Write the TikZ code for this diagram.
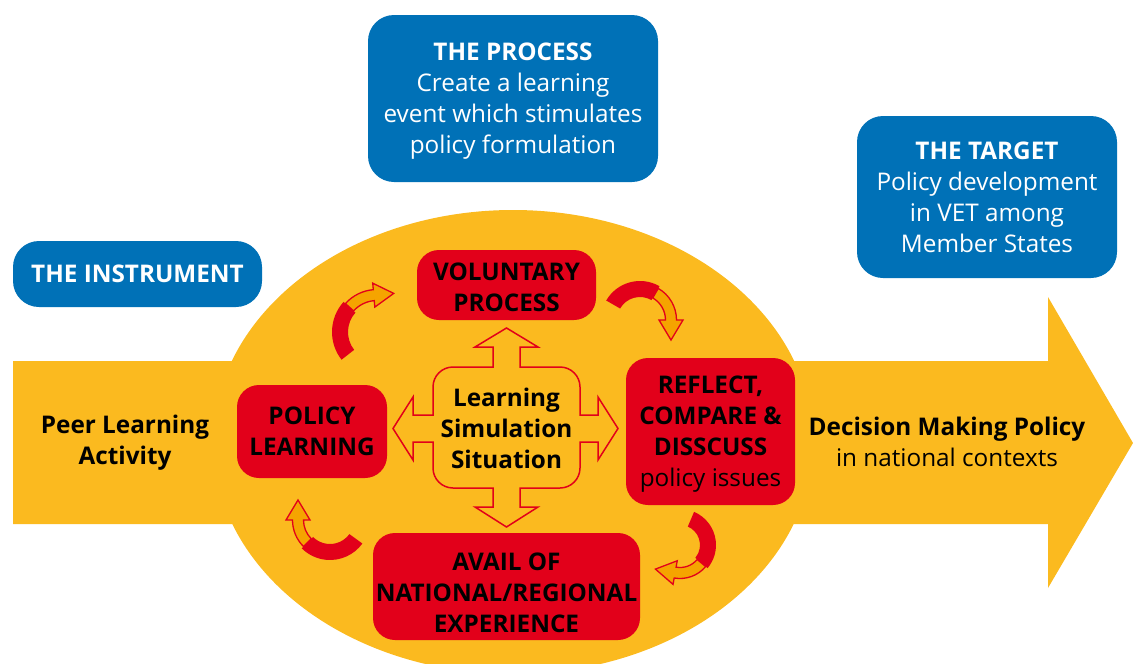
\documentclass[tikz,border=0pt]{standalone}
\usepackage{fontspec}
\setmainfont{Open Sans}
\usetikzlibrary{calc}

\definecolor{peeryellow}{HTML}{FBBA1F}
\definecolor{peerred}{HTML}{E2001A}
\definecolor{peerblue}{HTML}{0071B7}
\definecolor{peerorange}{HTML}{F5A400}

\newcommand{\boxfont}{\fontsize{24.3}{31}\selectfont}

% turning arrow: centre x, centre y, radius, tail angle, split angle, head angle
\newcommand{\swirl}[6]{%
  \begin{scope}[shift={(#1,#2)}]
    \fill[peerred] (#4:#3+8) arc[start angle=#4, end angle=#5, radius=#3+8]
      -- (#5:#3-8) arc[start angle=#5, end angle=#4, radius=#3-8] -- cycle;
    \filldraw[fill=peerorange, draw=peerred, line width=1.3pt, line join=miter]
      (#5:#3+5.5) arc[start angle=#5, end angle=#6, radius=#3+5.5]
      -- (#6:#3+12) -- ($(#6:#3)+(#6+90:20)$) -- (#6:#3-12)
      -- (#6:#3-5.5) arc[start angle=#6, end angle=#5, radius=#3-5.5] -- cycle;
  \end{scope}}

\begin{document}
\begin{tikzpicture}[x=1pt,y=-1pt,
  bluebox/.style={fill=peerblue, text=white, rounded corners=26, align=center,
    inner sep=0pt, text depth=0pt, font=\boxfont},
  redbox/.style={fill=peerred, text=black, rounded corners=22, align=center,
    inner sep=0pt, text depth=0pt, font=\boxfont\bfseries},
  plaintext/.style={align=center, text=black, font=\boxfont}]

	\useasboundingbox (0,0) rectangle (1133,664);
	\clip (0,0) rectangle (1133,664);

	% Draw the big arrow and the oval on top of it
	\fill[peeryellow] (13,361) -- (1048,361) -- (1048,297) -- (1133,443)
		-- (1048,588) -- (1048,524) -- (13,524) -- cycle;
	\fill[peeryellow] (513,442) ellipse[x radius=300, y radius=232];

	% Blue boxes
	\node[bluebox, minimum width=290, minimum height=167] (process) at (513,98.5)
		{\textbf{THE PROCESS}\\Create a learning\\event which stimulates\\policy formulation};
	\node[bluebox, minimum width=260, minimum height=162] (target) at (987,197)
		{\textbf{THE TARGET}\\Policy development\\in VET among\\Member States};
	\node[bluebox, minimum width=249, minimum height=66] (instrument) at (137.5,274)
		{\textbf{THE INSTRUMENT}};

	% Text on the arrow
	\node[plaintext] (peer) at (125,443) {\textbf{Peer Learning}\\\textbf{Activity}};
	\node[plaintext] (decision) at (947,442) {\textbf{Decision Making Policy}\\in national contexts};

	% Red boxes round the oval
	\node[redbox, minimum width=179, minimum height=70, text height=52] (voluntary) at (506.5,285)
		{VOLUNTARY\\PROCESS};
	\node[redbox, minimum width=150, minimum height=93] (policy) at (312,431.5)
		{POLICY\\LEARNING};
	\node[redbox, minimum width=169, minimum height=147] (reflect) at (710.5,431.5)
		{REFLECT,\\COMPARE \&\\DISSCUSS\\\mdseries policy issues};
	\node[redbox, minimum width=267, minimum height=107, text height=92] (avail) at (506.5,586.5)
		{AVAIL OF\\NATIONAL/REGIONAL\\EXPERIENCE};

	% Four-way arrow in the middle
	\draw[peerred, line width=1.5pt, line join=miter]
		(493,367) -- (493,347) -- (475,347) -- (506.5,328) -- (538,347) -- (520,347)
		-- (520,367) -- (560,367) arc[start angle=-90, end angle=0, radius=20]
		-- (580,415) -- (598,415) -- (598,397) -- (618,428.5) -- (598,460) -- (598,442)
		-- (580,442) -- (580,468) arc[start angle=0, end angle=90, radius=20]
		-- (520,488) -- (520,507) -- (538,507) -- (506.5,527) -- (475,507) -- (493,507)
		-- (493,488) -- (453,488) arc[start angle=90, end angle=180, radius=20]
		-- (433,442) -- (413,442) -- (413,460) -- (393,428.5) -- (413,397) -- (413,415)
		-- (433,415) -- (433,387) arc[start angle=180, end angle=270, radius=20]
		-- cycle;
	\node[plaintext, font=\boxfont\bfseries] (lss) at (506.5,428) {Learning\\Simulation\\Situation};

	% Turning arrows between the boxes
	\swirl{377}{332}{37}{142}{222}{265}
	\swirl{640}{320}{31}{210}{300}{360}
	\swirl{680}{545}{28}{293}{400}{460}
	\swirl{330}{520}{32}{36}{135}{180}

\end{tikzpicture}
\end{document}
